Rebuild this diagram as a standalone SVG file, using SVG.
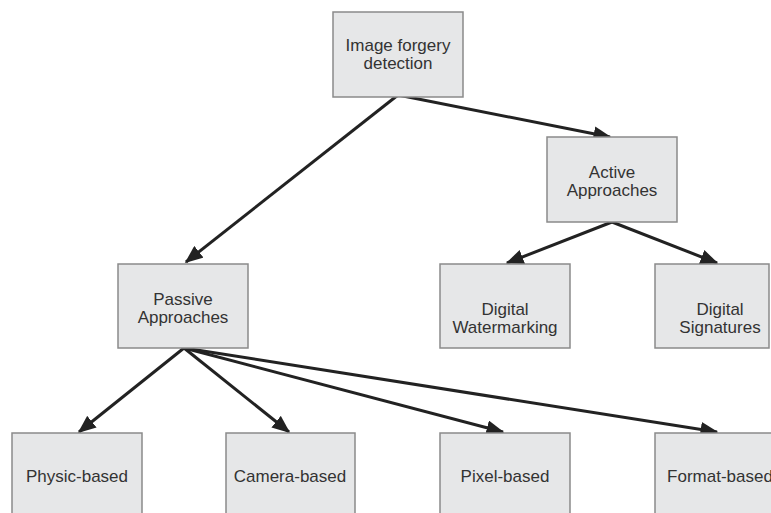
<svg xmlns="http://www.w3.org/2000/svg" width="771" height="513" viewBox="0 0 771 513">
<style>
.box{fill:#e6e7e8;stroke:#8a8a8a;stroke-width:1.5}
.t{font-family:"Liberation Sans",Arial,sans-serif;font-size:17px;fill:#333;text-anchor:middle}
.c{stroke:#222;stroke-width:3;fill:none;marker-end:url(#ah)}
</style>
<defs>
<marker id="ah" markerWidth="6" markerHeight="5" refX="5.5" refY="2.5" orient="auto" markerUnits="strokeWidth">
<path d="M0,0 L6,2.5 L0,5 Z" fill="#222"/>
</marker>
</defs>
<rect width="771" height="513" fill="#fff"/>
<g id="connectors">
<path class="c" d="M398,95 L610,137"/>
<path class="c" d="M398,95 L186,262"/>
<path class="c" d="M612,222 L507,263"/>
<path class="c" d="M612,222 L717,263"/>
<path class="c" d="M184,348 L79,432"/>
<path class="c" d="M184,348 L289,432"/>
<path class="c" d="M184,348 L503,432"/>
<path class="c" d="M184,348 L717,432"/>
</g>
<g id="n_root"><rect class="box" x="333" y="12" width="130" height="85"/><text class="t" x="398" y="51">Image forgery</text><text class="t" x="398" y="69">detection</text></g>
<g id="n_active"><rect class="box" x="547" y="137" width="130" height="85"/><text class="t" x="612" y="178">Active</text><text class="t" x="612" y="196">Approaches</text></g>
<g id="n_passive"><rect class="box" x="118" y="264" width="130" height="84"/><text class="t" x="183" y="305">Passive</text><text class="t" x="183" y="323">Approaches</text></g>
<g id="n_watermark"><rect class="box" x="440" y="264" width="130" height="84"/><text class="t" x="505" y="315">Digital</text><text class="t" x="505" y="333">Watermarking</text></g>
<g id="n_signatures"><rect class="box" x="655" y="264" width="114" height="84"/><text class="t" x="720" y="315">Digital</text><text class="t" x="720" y="333">Signatures</text></g>
<g id="n_physic"><rect class="box" x="12" y="433" width="130" height="90"/><text class="t" x="77" y="482">Physic-based</text></g>
<g id="n_camera"><rect class="box" x="226" y="433" width="129" height="90"/><text class="t" x="290" y="482">Camera-based</text></g>
<g id="n_pixel"><rect class="box" x="440" y="433" width="130" height="90"/><text class="t" x="505" y="482">Pixel-based</text></g>
<g id="n_format"><rect class="box" x="655" y="433" width="130" height="90"/><text class="t" x="720" y="482">Format-based</text></g>
</svg>
